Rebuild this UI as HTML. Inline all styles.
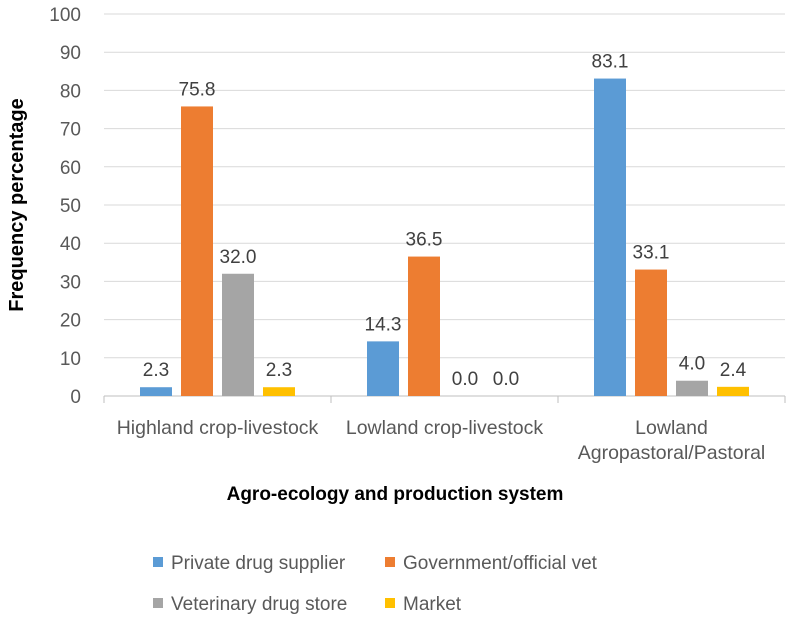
<!DOCTYPE html>
<html><head><meta charset="utf-8"><style>
body{margin:0;background:#fff;}
svg{display:block;font-family:"Liberation Sans",sans-serif;}
</style></head><body>
<svg id="chart" width="790" height="617" viewBox="0 0 790 617"></svg>
<script>
const categories=[["Highland crop-livestock"],["Lowland crop-livestock"],["Lowland","Agropastoral/Pastoral"]];
const seriesNames=["Private drug supplier","Government/official vet","Veterinary drug store","Market"];
const seriesColors=["#5b9bd5","#ed7d31","#a5a5a5","#ffc000"];
const privateVals=[2.3,14.3,83.1];
const govVals=[75.8,36.5,33.1];
const storeVals=[32.0,0.0,4.0];
const marketVals=[2.3,0.0,2.4];
const yTicks=[0,10,20,30,40,50,60,70,80,90,100];
const series=[privateVals,govVals,storeVals,marketVals];
const NS="http://www.w3.org/2000/svg";
const svg=document.getElementById('chart');
const x0=104,x1=785,yBase=396,yTop=14;
const y=v=>yBase-(v/100)*(yBase-yTop);
const catW=(x1-x0)/categories.length;
function mk(t,a,txt){const e=document.createElementNS(NS,t);for(const k in a)e.setAttribute(k,a[k]);if(txt!==undefined)e.textContent=txt;svg.appendChild(e);return e;}
yTicks.forEach(t=>{
 const g=mk('line',{x1:x0,x2:x1,y1:y(t),y2:y(t),stroke:t===0?'#bfbfbf':'#d9d9d9','stroke-width':1});
 
 
 const l=mk('text',{x:81,y:y(t)+7,'text-anchor':'end','font-size':19,fill:'#595959'},String(t));
 
 
});
for(let i=0;i<=categories.length;i++){
 const tk=mk('line',{x1:x0+i*catW,x2:x0+i*catW,y1:yBase,y2:yBase+7,stroke:'#bfbfbf'});
 
 
}
const bw=32,stride=41;
categories.forEach((c,ci)=>{
 const cx=x0+catW*(ci+0.5);
 series.forEach((s,si)=>{
  const bx=cx+(si-1.5)*stride-bw/2;
  const v=s[ci];
  const r=mk('rect',{x:bx,y:y(v),width:bw,height:yBase-y(v),fill:seriesColors[si]});
  
  
  const t=mk('text',{x:bx+bw/2,y:y(v)-11,'text-anchor':'middle','font-size':19,fill:'#404040'},v.toFixed(1));
  
  
 });
 c.forEach((line,li)=>{
  const t=mk('text',{x:cx,y:434+li*25,'text-anchor':'middle','font-size':19.5,fill:'#595959'},line);
  
  
 });
});
const xt=mk('text',{x:395,y:500,'text-anchor':'middle','font-size':19,'font-weight':'bold',fill:'#000'},'Agro-ecology and production system');


const yt=mk('text',{x:0,y:0,transform:'translate(23,205) rotate(-90)','text-anchor':'middle','font-size':20,'font-weight':'bold',fill:'#000'},'Frequency percentage');


const legPos=[[153,557],[385,557],[153,598],[385,598]];
seriesNames.forEach((n,i)=>{
 const [lx,ly]=legPos[i];
 const sq=mk('rect',{x:lx,y:ly,width:10,height:10,fill:seriesColors[i]});
 
 
 const t=mk('text',{x:lx+18,y:ly+12,'font-size':19,fill:'#595959'},n);
 
 
});
</script>
</body></html>
